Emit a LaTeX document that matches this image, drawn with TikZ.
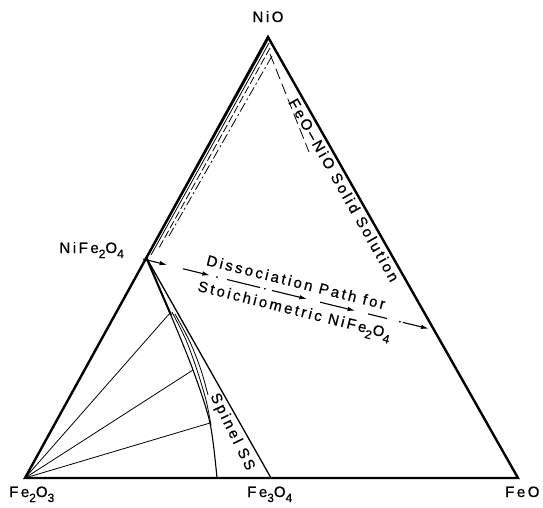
\documentclass[tikz,border=0pt]{standalone}
\usepackage{fontspec}
\setmainfont{Liberation Sans}[LetterSpace=17,FakeBold=0.8]
\usetikzlibrary{arrows.meta,calc}
\newcommand\chemsub[1]{\raisebox{-5pt}{\fontsize{12}{12}\selectfont #1}}
\begin{document}
\begin{tikzpicture}[x=1pt,y=-1pt,
  lbl/.style={font=\fontsize{15}{17}\selectfont, inner sep=0pt},
  edge/.style={line width=2.4pt, line join=miter},
  thinl/.style={line width=0.8pt},
  arr/.style={line width=1.1pt,-{Latex[length=7.5pt,width=4.5pt]}},
]
\useasboundingbox (0,0) rectangle (543,507);
\coordinate (nio) at (268,37);
\coordinate (fe2o3) at (25,478);
\coordinate (feo) at (518,478);
\coordinate (fe3o4) at (271,478);
\coordinate (nife) at (146,257);
% triangle
\draw[edge] (fe2o3) -- (nio) -- (feo) -- cycle;
% spinel boundaries
\draw[line width=1.3pt] (nife) -- (fe3o4);
\draw[line width=1.1pt] plot[smooth] coordinates {(146,257) (170,313) (193,370) (210,423) (217,478)};
\draw[line width=2pt] plot[smooth] coordinates {(146,257) (158,285) (171,315)};
\draw[thinl] plot[smooth] coordinates {(172,312) (186,340) (197,370) (206,400) (211,425)};
\draw[thinl] plot[smooth] coordinates {(175,314) (190,342) (201,370) (208,395)};
% tie lines
\coordinate (t1) at (170,313);
\coordinate (t2) at (193,370);
\coordinate (t3) at (210,423);
\draw[thinl] (fe2o3) -- (t1);
\draw[thinl] (fe2o3) -- (t2);
\draw[thinl] (fe2o3) -- (t3);
% NiO fan lines
\draw[thinl] (268,40) -- (148,256);
\draw[thinl] (269,43) -- (151,255);
\draw[thinl, dash pattern=on 8pt off 3pt] (270,48) -- (159,248);
\draw[thinl, dash pattern=on 10pt off 3pt on 2pt off 3pt] (272,56) -- (169,236);
% FeO-NiO boundary
\draw[thinl, dash pattern=on 11pt off 5pt] (270,54) -- (309,152);
% dissociation path
\coordinate (pa) at (143,259);
\coordinate (pb) at (430,329);
\foreach \s/\e in {0/0.084, 0.139/0.233, 0.449/0.571, 0.617/0.739, 0.906/0.995}
  \draw[arr] ($(pa)!\s!(pb)$) -- ($(pa)!\e!(pb)$);
\foreach \s/\e in {0.293/0.408, 0.784/0.850}
  \draw[line width=1.1pt] ($(pa)!\s!(pb)$) -- ($(pa)!\e!(pb)$);
\foreach \d in {0.258, 0.425, 0.895}
  \fill ($(pa)!\d!(pb)$) circle (1pt);
% labels
\node[lbl, anchor=base] (lNiO) at (268,22) {NiO};
\node[lbl, anchor=base east] (lNiFe) at (124,253) {NiFe\chemsub{2}O\chemsub{4}};
\node[lbl, anchor=base west] (lFe2O3) at (9,497) {Fe\chemsub{2}O\chemsub{3}};
\node[lbl, anchor=base west] (lFe3O4) at (247,497) {Fe\chemsub{3}O\chemsub{4}};
\node[lbl, anchor=base west] (lFeO) at (505,497) {FeO};
\node[lbl, rotate=-60.4] (lSS) at (344,190) {FeO–NiO Solid Solution};
\node[lbl, rotate=-64] (lSp) at (232,432) {Spinel SS};
\node[lbl, rotate=-14] (lD1) at (296,282) {Dissociation Path for};
\node[lbl, rotate=-14] (lD2) at (294,312) {Stoichiometric NiFe\chemsub{2}O\chemsub{4}};
\end{tikzpicture}
\end{document}
